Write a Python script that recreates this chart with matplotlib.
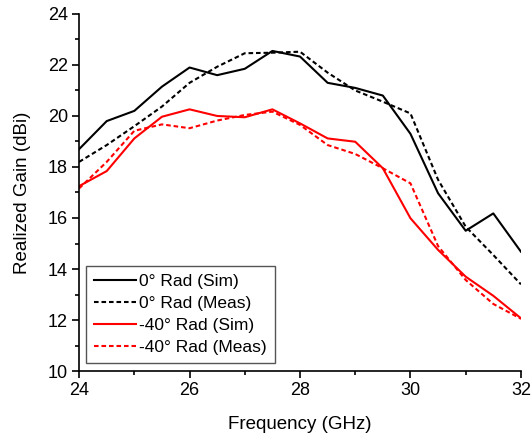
import matplotlib.pyplot as plt
from matplotlib.ticker import MultipleLocator

plt.rcParams['font.family'] = ['Liberation Sans', 'DejaVu Sans']

freq = [24, 24.5, 25, 25.5, 26, 26.5, 27, 27.5, 28, 28.5, 29, 29.5, 30, 30.5, 31, 31.5, 32]
sim_0 = [18.7, 19.8, 20.2, 21.15, 21.9, 21.6, 21.85, 22.55, 22.33, 21.3, 21.1, 20.8, 19.3, 16.97, 15.5, 16.18, 14.68]
meas_0 = [18.2, 18.86, 19.6, 20.37, 21.3, 21.93, 22.46, 22.48, 22.52, 21.7, 21.0, 20.56, 20.1, 17.5, 15.66, 14.55, 13.4]
sim_40 = [17.25, 17.84, 19.12, 19.97, 20.26, 20.0, 19.95, 20.26, 19.71, 19.12, 18.99, 17.95, 15.99, 14.75, 13.7, 12.95, 12.07]
meas_40 = [17.16, 18.2, 19.42, 19.67, 19.52, 19.82, 20.04, 20.17, 19.65, 18.86, 18.51, 17.95, 17.36, 14.9, 13.57, 12.63, 12.05]

fig = plt.figure(figsize=(5.31, 4.36), dpi=100)
ax = fig.add_axes([0.149, 0.149, 0.832, 0.819])

dash = (0, (2.2, 1.4))
ax.plot(freq, sim_0, color="black", lw=1.5, label="0° Rad (Sim)")
ax.plot(freq, meas_0, color="black", lw=1.5, ls=dash, label="0° Rad (Meas)")
ax.plot(freq, sim_40, color="red", lw=1.5, label="-40° Rad (Sim)")
ax.plot(freq, meas_40, color="red", lw=1.5, ls=dash, label="-40° Rad (Meas)")

ax.set_xlim(24, 32)
ax.set_ylim(10, 24)
ax.xaxis.set_major_locator(MultipleLocator(2))
ax.xaxis.set_minor_locator(MultipleLocator(1))
ax.yaxis.set_major_locator(MultipleLocator(2))
ax.yaxis.set_minor_locator(MultipleLocator(1))
ax.tick_params(which="major", direction="out", length=5, width=1.2, labelsize=13, pad=3)
ax.tick_params(which="minor", direction="out", length=3, width=1.2)
ax.spines["top"].set_visible(False)
ax.spines["right"].set_visible(False)
ax.spines["left"].set_linewidth(1.2)
ax.spines["bottom"].set_linewidth(1.2)

ax.set_xlabel("Frequency (GHz)", fontsize=13.5)
ax.set_ylabel("Realized Gain (dBi)", fontsize=13.5)
ax.xaxis.set_label_coords(0.5, -0.125)
ax.yaxis.set_label_coords(-0.108, 0.5)

leg = ax.legend(loc="lower left", bbox_to_anchor=(0.016, 0.022), fontsize=12.5,
                fancybox=False, edgecolor="#555555", framealpha=1,
                handlelength=2.4, handletextpad=0.2, borderpad=0.45,
                labelspacing=0.4, borderaxespad=0)
leg.get_frame().set_linewidth(1.0)

plt.savefig("out.png")
plt.close()
